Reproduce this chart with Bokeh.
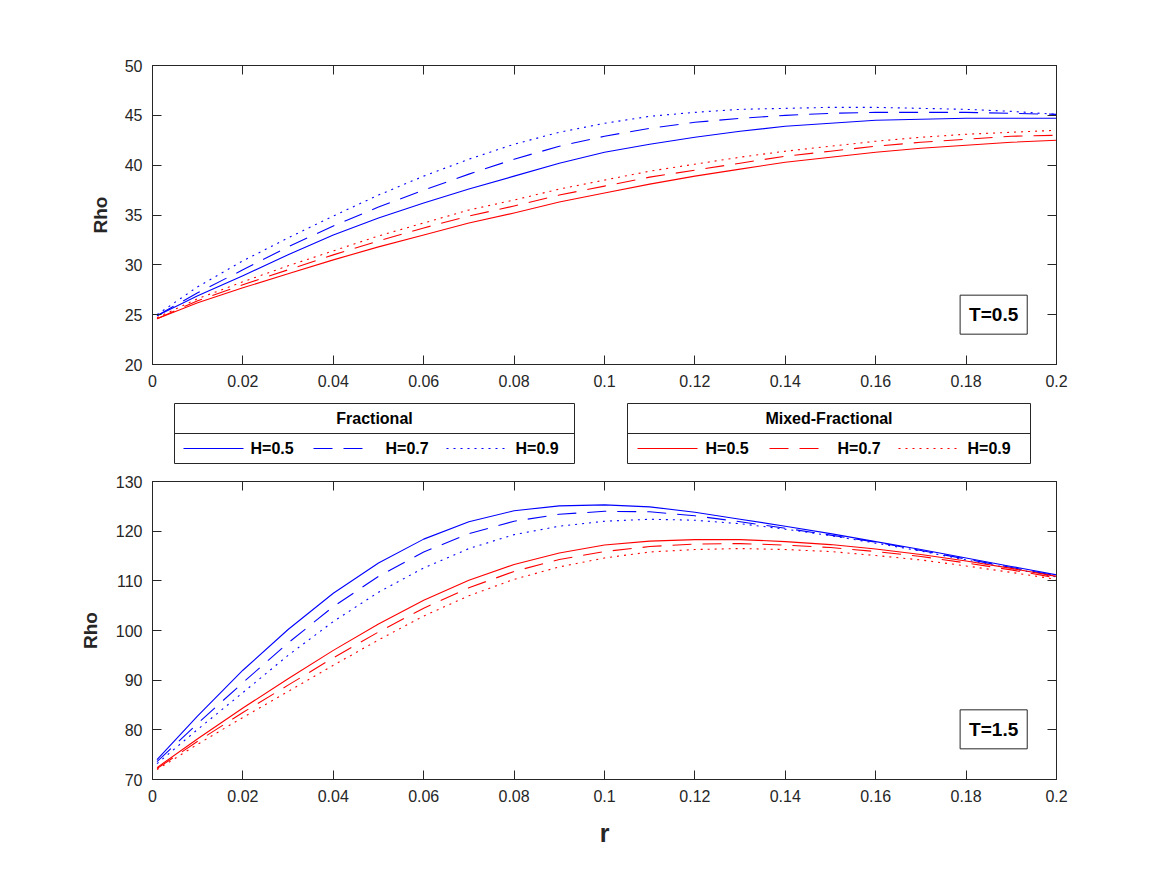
from bokeh.plotting import figure
from bokeh.models import Range1d, LinearAxis, FixedTicker, CustomJSTickFormatter, Label
from bokeh.layouts import column
from bokeh.embed import file_html
from bokeh.resources import INLINE
from bokeh.core.properties import value

# interest rate grid
r = [0.001, 0.01, 0.02, 0.03, 0.04, 0.05, 0.06, 0.07, 0.08, 0.09, 0.10,
     0.11, 0.12, 0.13, 0.14, 0.15, 0.16, 0.17, 0.18, 0.19, 0.20]

# T = 0.5, fractional model
frac_T05_H05 = [24.9, 26.9, 28.9, 31.0, 33.0, 34.7, 36.2, 37.6, 38.9, 40.2, 41.3,
                42.1, 42.8, 43.4, 43.9, 44.2, 44.5, 44.6, 44.7, 44.7, 44.7]
frac_T05_H07 = [24.9, 27.2, 29.5, 31.8, 33.9, 35.8, 37.5, 39.1, 40.6, 41.9, 42.9,
                43.7, 44.3, 44.7, 45.0, 45.2, 45.3, 45.3, 45.3, 45.2, 45.1]
frac_T05_H09 = [25.0, 27.8, 30.4, 32.7, 34.9, 37.0, 38.9, 40.6, 42.1, 43.3, 44.2,
                44.9, 45.3, 45.6, 45.7, 45.8, 45.8, 45.7, 45.6, 45.4, 45.1]
# T = 0.5, mixed-fractional model
mix_T05_H05 = [24.6, 26.2, 27.7, 29.1, 30.5, 31.8, 33.0, 34.2, 35.2, 36.3, 37.2,
               38.1, 38.9, 39.6, 40.3, 40.8, 41.3, 41.7, 42.0, 42.3, 42.5]
mix_T05_H07 = [24.6, 26.4, 28.0, 29.5, 31.0, 32.4, 33.7, 34.9, 35.9, 37.0, 37.9,
               38.8, 39.5, 40.2, 40.9, 41.4, 41.9, 42.3, 42.6, 42.9, 43.0]
mix_T05_H09 = [24.7, 26.6, 28.3, 29.9, 31.4, 32.9, 34.2, 35.5, 36.5, 37.6, 38.5,
               39.4, 40.1, 40.8, 41.4, 41.9, 42.4, 42.8, 43.1, 43.3, 43.5]

# T = 1.5, fractional model
frac_T15_H05 = [74.0, 82.8, 92.0, 100.2, 107.5, 113.6, 118.4, 121.9, 124.1, 125.1, 125.3,
                124.9, 123.8, 122.4, 121.0, 119.5, 117.9, 116.3, 114.6, 112.9, 111.2]
frac_T15_H07 = [73.6, 81.3, 89.5, 97.5, 104.8, 110.9, 115.8, 119.5, 122.0, 123.4, 124.0,
                123.9, 123.1, 121.9, 120.6, 119.2, 117.8, 116.1, 114.4, 112.7, 111.0]
frac_T15_H09 = [73.2, 80.1, 87.5, 95.0, 101.8, 107.7, 112.6, 116.5, 119.3, 121.0, 122.0,
                122.4, 122.2, 121.5, 120.4, 119.1, 117.6, 116.0, 114.2, 112.5, 110.8]
# T = 1.5, mixed-fractional model
mix_T15_H05 = [72.4, 78.2, 84.4, 90.3, 96.0, 101.3, 106.1, 110.1, 113.3, 115.6, 117.2,
               118.0, 118.3, 118.3, 117.9, 117.3, 116.4, 115.3, 114.0, 112.5, 110.9]
mix_T15_H07 = [72.2, 77.7, 83.5, 89.0, 94.5, 99.7, 104.5, 108.6, 111.9, 114.3, 115.9,
               116.9, 117.4, 117.5, 117.2, 116.7, 115.9, 114.9, 113.6, 112.2, 110.6]
mix_T15_H09 = [72.0, 77.1, 82.5, 87.7, 93.0, 98.1, 102.9, 107.0, 110.3, 112.8, 114.6,
               115.8, 116.3, 116.5, 116.3, 115.9, 115.1, 114.2, 113.0, 111.7, 110.3]

x_ticks = [0, 0.02, 0.04, 0.06, 0.08, 0.1, 0.12, 0.14, 0.16, 0.18, 0.2]
y_ticks_top = [20, 25, 30, 35, 40, 45, 50]
y_ticks_bottom = [70, 80, 90, 100, 110, 120, 130]
hurst_labels = ["H=0.5", "H=0.7", "H=0.9"]

FONT = "Liberation Sans"
INK = "#262626"
BLUE = "#0000ff"
RED = "#ff0000"
DASHES = ["solid", "19 11", "2 5"]

LEFT, FRAME_W, RIGHT = 152, 904, 111


def style_axis(ax):
    ax.axis_line_color = INK
    ax.major_tick_line_color = INK
    ax.minor_tick_line_color = None
    ax.major_tick_in = 9
    ax.major_tick_out = 0
    ax.major_label_text_color = INK
    ax.major_label_text_font = FONT
    ax.major_label_text_font_size = "16px"


def mirror_axis(ticks):
    # tick marks only (drawn as minor ticks so that no labels exist)
    ax = LinearAxis(ticker=FixedTicker(ticks=[], minor_ticks=ticks))
    ax.axis_line_color = INK
    ax.major_tick_line_color = None
    ax.minor_tick_line_color = INK
    ax.minor_tick_in = 9
    ax.minor_tick_out = 0
    ax.major_label_standoff = 0
    return ax


def make_panel(yr, yticks, curves, tag, tag_y, top_border, bottom_border,
               frame_h, xlabel, label_standoff):
    p = figure(frame_width=FRAME_W, frame_height=frame_h,
               x_range=Range1d(0, 0.2), y_range=Range1d(*yr),
               min_border_left=LEFT, min_border_right=RIGHT,
               min_border_top=top_border, min_border_bottom=bottom_border,
               output_backend="svg", toolbar_location=None,
               background_fill_color="white", border_fill_color="white")
    p.grid.visible = False
    p.outline_line_color = INK

    xa = p.xaxis[0]
    xa.ticker = FixedTicker(ticks=x_ticks)
    xa.formatter = CustomJSTickFormatter(code="return String(Number(tick.toFixed(2)));")
    style_axis(xa)
    xa.major_label_standoff = 10
    ya = p.yaxis[0]
    ya.ticker = FixedTicker(ticks=yticks)
    style_axis(ya)
    ya.major_label_standoff = 10
    ya.axis_label = "Rho"
    ya.axis_label_text_font = FONT
    ya.axis_label_text_font_style = "bold"
    ya.axis_label_text_font_size = "19px"
    ya.axis_label_text_color = INK
    ya.axis_label_standoff = label_standoff

    p.add_layout(mirror_axis(x_ticks), "above")
    p.add_layout(mirror_axis(yticks), "right")

    if xlabel is not None:
        xa.axis_label = xlabel
        xa.axis_label_text_font = FONT
        xa.axis_label_text_font_style = "bold"
        xa.axis_label_text_font_size = "25px"
        xa.axis_label_text_color = INK
        xa.axis_label_standoff = 14

    for color, group in curves:
        for ys, dash in zip(group, DASHES):
            p.line(r, ys, line_color=color, line_width=1.1, line_dash=dash,
                   line_join="round")

    p.add_layout(Label(x=0.1861, y=tag_y, text=tag, text_align="center",
                       text_baseline="middle", text_font=FONT,
                       text_font_style="bold", text_font_size="19px",
                       text_color="black", border_line_color=INK,
                       background_fill_color="white", padding=9))
    return p


top = make_panel((20, 50), y_ticks_top,
                 [(BLUE, [frac_T05_H05, frac_T05_H07, frac_T05_H09]),
                  (RED, [mix_T05_H05, mix_T05_H07, mix_T05_H09])],
                 "T=0.5", 25.0, 65, 30, 299, None, 11)

bottom = make_panel((70, 130), y_ticks_bottom,
                    [(BLUE, [frac_T15_H05, frac_T15_H07, frac_T15_H09]),
                     (RED, [mix_T15_H05, mix_T15_H07, mix_T15_H09])],
                    "T=1.5", 80.1, 11, 96, 298, "r", 12)

# legend strip between the two panels (page-pixel x, y measured downward)
leg = figure(frame_width=FRAME_W, frame_height=76,
             x_range=Range1d(LEFT, LEFT + FRAME_W), y_range=Range1d(76, 0),
             x_axis_location=None, y_axis_location=None,
             min_border_left=LEFT, min_border_right=RIGHT,
             min_border_top=0, min_border_bottom=0,
             output_backend="svg", toolbar_location=None,
             background_fill_color="white", border_fill_color="white")
leg.grid.visible = False
leg.outline_line_color = None

boxes = [
    ("Fractional", BLUE, 174, 574, [183, 313, 446], [250, 385, 515]),
    ("Mixed-Fractional", RED, 627, 1030, [637, 769, 898], [705, 837, 967]),
]
for title, color, x0, x1, samples, texts in boxes:
    leg.quad(left=[x0], right=[x1], top=[9], bottom=[69],
             fill_color="white", line_color=INK, line_width=1)
    leg.segment(x0=[x0], y0=[39], x1=[x1], y1=[39], line_color=INK, line_width=1)
    leg.text(x=[(x0 + x1) / 2], y=[24], text=[title], text_font=value(FONT),
             text_font_style="bold", text_font_size="16px", text_color="black",
             text_align="center", text_baseline="middle")
    for sx, tx, dash, lab in zip(samples, texts, DASHES, hurst_labels):
        leg.line(x=[sx, sx + 60], y=[54, 54], line_color=color,
                 line_width=1.1, line_dash=dash)
        leg.text(x=[tx], y=[54], text=[lab], text_font=value(FONT),
                 text_font_style="bold", text_font_size="16px", text_color="black",
                 text_align="left", text_baseline="middle")

layout = column(top, leg, bottom, spacing=0)
open("out.html", "w").write(file_html(layout, INLINE))
